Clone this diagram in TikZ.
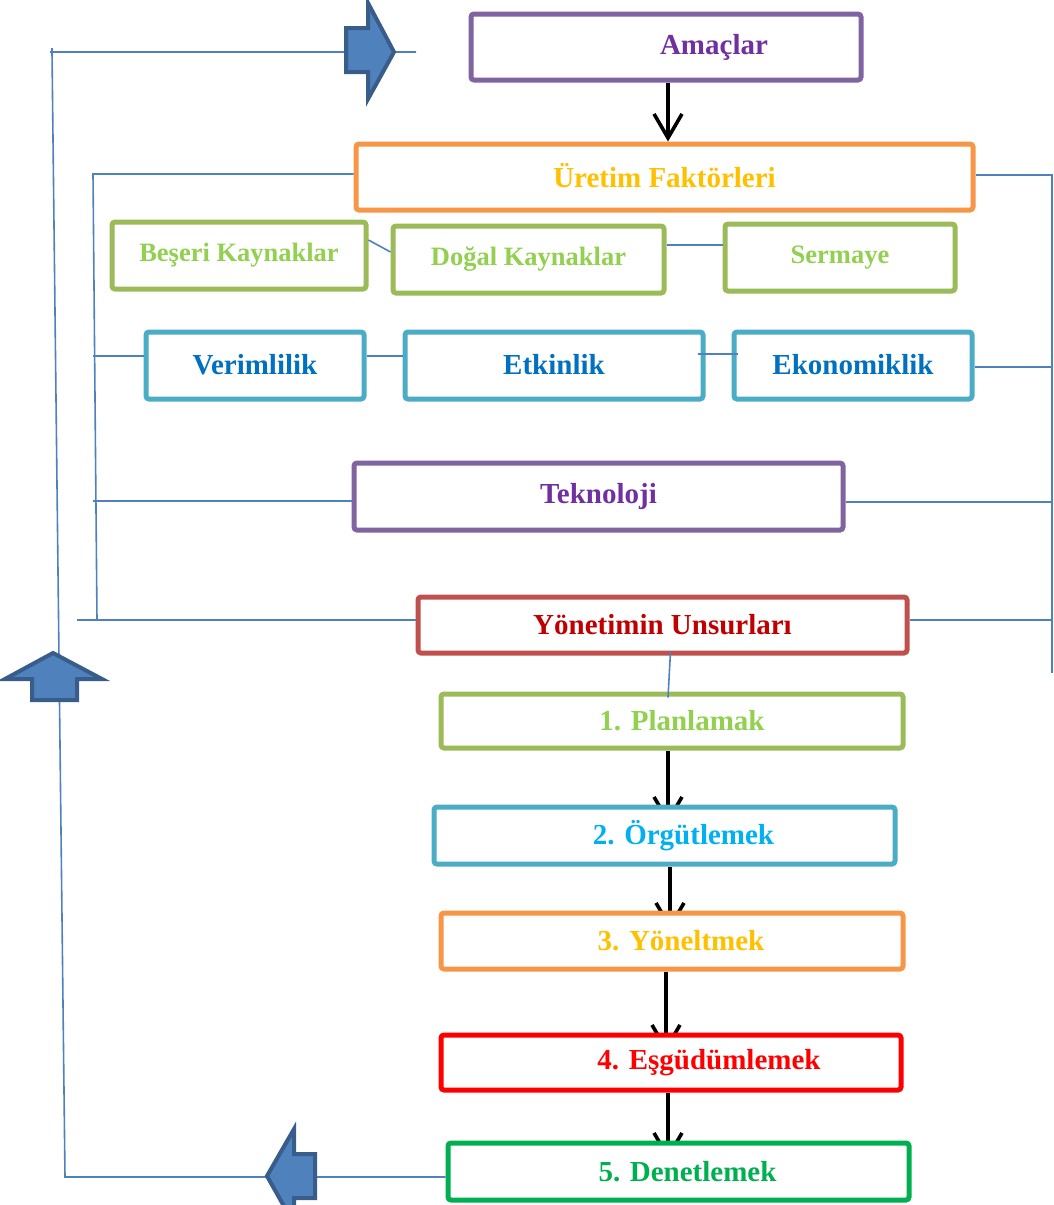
\documentclass[tikz,border=0pt]{standalone}
\usepackage{fontspec}
\setmainfont{Liberation Serif}
\usepackage{tikz}
\usetikzlibrary{arrows.meta,backgrounds}

\definecolor{bPurple}{HTML}{8064A2}
\definecolor{tPurple}{HTML}{7030A0}
\definecolor{bOrange}{HTML}{F79646}
\definecolor{tGold}{HTML}{FFC000}
\definecolor{bGreen}{HTML}{9BBB59}
\definecolor{tGreen}{HTML}{92D050}
\definecolor{bAqua}{HTML}{4BACC6}
\definecolor{tBlue}{HTML}{0070C0}
\definecolor{tSky}{HTML}{00B0F0}
\definecolor{bRed}{HTML}{C0504D}
\definecolor{tRed}{HTML}{C00000}
\definecolor{pureRed}{HTML}{FF0000}
\definecolor{dGreen}{HTML}{00B050}
\definecolor{lineBlue}{HTML}{4F81BD}
\definecolor{edgeBlue}{HTML}{385D8A}

\begin{document}
\begin{tikzpicture}[x=1pt, y=-1pt, font=\fontsize{29}{34}\selectfont\bfseries,
  blk/.style = {draw, fill=white, line width=5pt, rounded corners=3pt, inner sep=0pt},
  purp/.style = {blk, draw=bPurple, text=tPurple},
  orng/.style = {blk, draw=bOrange, text=tGold},
  grn/.style = {blk, draw=bGreen, text=tGreen},
  small/.style = {font=\fontsize{26.5}{31}\selectfont\bfseries},
  aqua/.style = {blk, draw=bAqua, text=tBlue},
  textshift/.style = {execute at begin node={\hspace*{#1}}},
  link/.style = {draw=lineBlue, line width=1.6pt},
  flow/.style = {draw=black, line width=3.6pt, -{Straight Barb[length=24pt, width=28pt, line width=3.6pt]}},
  fat/.style = {fill=lineBlue, draw=edgeBlue, line width=4pt, line join=miter}]
\useasboundingbox (0,0) rectangle (1053,1205);
                    \node[purp, minimum width=390pt, minimum height=66pt, textshift=96pt] (amac) at (666,47) {Amaçlar};
                    \node[orng, minimum width=617pt, minimum height=66pt] (uretim) at (664.5,177) {\raisebox{3pt}{Üretim Faktörleri}};
                    \node[grn, small, minimum width=254pt, minimum height=67pt] (beseri) at (239,255.5) {\raisebox{4pt}{Beşeri Kaynaklar}};
                    \node[grn, small, minimum width=271pt, minimum height=67pt] (dogal) at (528.5,259.5) {\raisebox{4pt}{Doğal Kaynaklar}};
                    \node[grn, small, minimum width=230pt, minimum height=67pt] (sermaye) at (840,257.5) {\raisebox{4pt}{Sermaye}};
                    \node[aqua, minimum width=218pt, minimum height=67pt] (verim) at (255,365.5) {\raisebox{3pt}{Verimlilik}};
                    \node[aqua, minimum width=298pt, minimum height=67pt] (etkin) at (554,365.5) {\raisebox{3pt}{Etkinlik}};
                    \node[aqua, minimum width=238pt, minimum height=67pt] (ekon) at (853,365.5) {\raisebox{3pt}{Ekonomiklik}};
                    \node[purp, minimum width=489pt, minimum height=67pt] (tekno) at (598.5,496.5) {\raisebox{3pt}{Teknoloji}};
                    \node[blk, draw=bRed, text=tRed, minimum width=489pt, minimum height=56pt] (yonetim) at (662.5,625) {Yönetimin Unsurları};
                    \node[grn, minimum width=462pt, minimum height=54pt, textshift=20pt] (plan) at (672,721) {1. Planlamak};
                    \node[blk, draw=bAqua, text=tSky, minimum width=461pt, minimum height=57pt, textshift=38pt] (orgut) at (664.5,835.5) {2. Örgütlemek};
                    \node[orng, minimum width=462pt, minimum height=56pt, textshift=18pt] (yonelt) at (672,941) {3. Yöneltmek};
                    \node[blk, draw=pureRed, text=pureRed, minimum width=460pt, minimum height=55pt, textshift=76pt] (esgud) at (671,1062.5) {4. Eşgüdümlemek};
                    \node[blk, draw=dGreen, text=dGreen, minimum width=461pt, minimum height=57pt, textshift=18pt] (denet) at (678.5,1171.5) {5. Denetlemek};
                    % free ends of the feedback lines
                    \coordinate (topleft) at (52,52);
                    \coordinate (topright) at (416,52);
                    \coordinate (botleft) at (65,1177);
                    \coordinate (inup) at (93,174);
                    \coordinate (indown) at (97,620);
                    \coordinate (instub) at (77,620);
                    \coordinate (outup) at (1052,175);
                    \coordinate (outdown) at (1052,673);
                    % black flow arrows
                    \draw[flow] ([xshift=2pt]amac.south) -- ([xshift=2pt]amac.south |- uretim.north);
                    \begin{scope}[on background layer]
                    \draw[flow, shorten >=-20pt] ([xshift=-4pt]plan.south) -- ([xshift=3.5pt]orgut.north);
                    \draw[flow, shorten >=-20pt] ([xshift=5.5pt]orgut.south) -- ([xshift=-2pt]yonelt.north);
                    \draw[flow, shorten >=-20pt] ([xshift=-6pt]yonelt.south) -- ([xshift=-5pt]esgud.north);
                    \draw[flow, shorten >=-20pt] ([xshift=-3pt]esgud.south) -- ([xshift=-10.5pt]denet.north);
                    \end{scope}
                    % blue links
                    \draw[link] (denet.west |- botleft) -- (botleft) -- (topleft) -- (topright);
                    \draw[link] (topleft) -- ++(-2,0) (topleft) -- ++(0,-4);
                    \draw[link] (uretim.west |- inup) -- (inup) -- (indown);
                    \draw[link] (verim.west) ++(0,-9.5) -- ++(-51,0);
                    \draw[link] (tekno.west) ++(0,4.5) -- ++(-259,0);
                    \draw[link] (instub) -- (yonetim.west |- instub);
                    \draw[link] (uretim.east |- outup) -- (outup) -- (outdown);
                    \draw[link] ([yshift=-1.5pt]ekon.east) -- ([yshift=-1.5pt]ekon.east -| outup);
                    \draw[link] ([yshift=-5.5pt]tekno.east) -- ([yshift=-5.5pt]tekno.east -| outup);
                    \draw[link] (yonetim.east |- instub) -- (instub -| outup);
                    \draw[link] ([yshift=15.5pt]beseri.east) -- ([yshift=7.5pt]dogal.west);
                    \draw[link] ([yshift=14.5pt]dogal.east) -- ([yshift=12.5pt]sermaye.west);
                    \draw[link] ([yshift=9.5pt]verim.east) -- ([yshift=9.5pt]etkin.west);
                    \draw[link] ([yshift=11.5pt,xshift=-8pt]etkin.east) -- ([yshift=11.5pt,xshift=6pt]ekon.west);
                    \draw[link] ([xshift=8pt,yshift=4pt]yonetim.south) -- ([xshift=-4pt,yshift=-6pt]plan.north);
                    % block arrows on the feedback loop
                    \filldraw[fat] (346,28) -- (368,28) -- (368,3) -- (394,52) -- (368,99) -- (368,72) -- (346,72) -- cycle;
                    \filldraw[fat] (53,653) -- (102,679) -- (77,679) -- (77,700) -- (32,700) -- (32,679) -- (5,679) -- cycle;
                    \filldraw[fat] (267,1176) -- (294,1129) -- (294,1154) -- (315,1154) -- (315,1198) -- (294,1198) -- (294,1224) -- cycle;
                \end{tikzpicture}
\end{document}
